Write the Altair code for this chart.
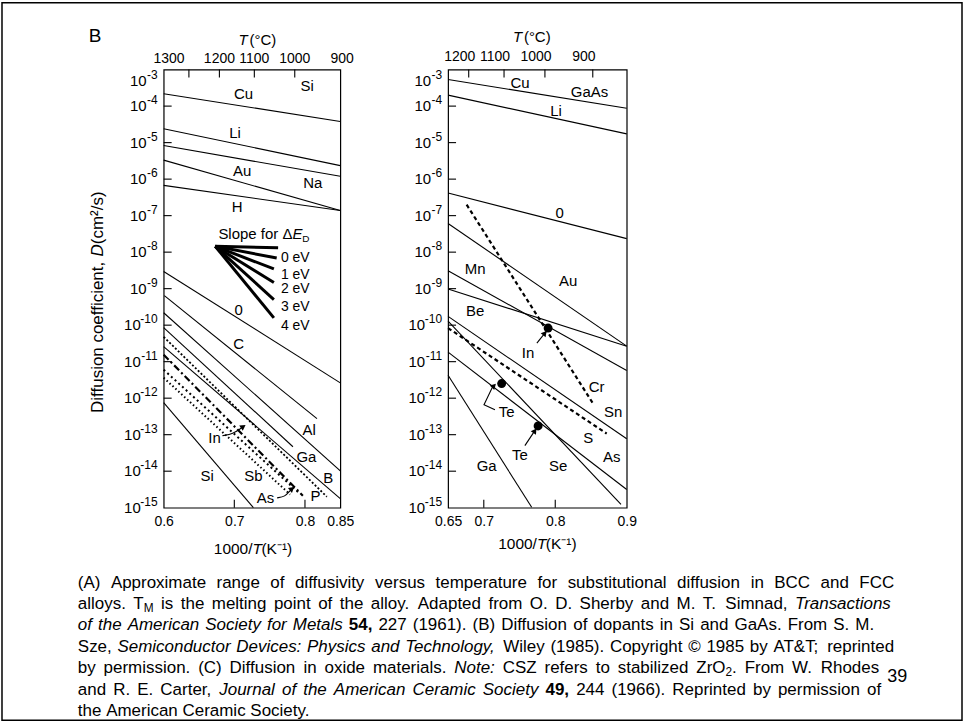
import re
import altair as alt
import pandas as pd

FONT = "Liberation Sans"

# ---------------- Left panel : dopants in Si ----------------
si_names = ["Cu", "Li", "Na", "Au", "H", "O", "C", "Al", "Ga", "B", "P", "In", "As", "Sb", "Si"]
si_x0 = [0.6, 0.6, 0.6, 0.6, 0.6, 0.6, 0.601, 0.6, 0.6, 0.6, 0.6, 0.6, 0.6, 0.6, 0.6]
si_y0 = [-3.66, -4.62, -5.08, -5.48, -6.17, -8.53, -9.19, -9.66, -10.07, -10.59, -10.32, -10.81, -11.22, -11.44, -12.12]
si_x1 = [0.85, 0.85, 0.85, 0.85, 0.85, 0.85, 0.817, 0.85, 0.783, 0.85, 0.831, 0.797, 0.793, 0.779, 0.727]
si_y1 = [-4.42, -5.63, -5.92, -6.86, -6.86, -11.58, -12.56, -13.99, -13.33, -14.75, -14.70, -14.67, -14.62, -14.64, -15.0]

si_lab_text = ["Si", "Cu", "Li", "Au", "Na", "H", "0", "C", "Al", "Ga", "B", "P", "In", "Si", "Sb", "As"]
si_lab_x = [0.803, 0.713, 0.701, 0.711, 0.811, 0.704, 0.706, 0.706, 0.806, 0.802, 0.833, 0.815, 0.672, 0.6615, 0.727, 0.744]
si_lab_y = [-3.46, -3.68, -4.73, -5.79, -6.10, -6.76, -9.58, -10.53, -12.86, -13.61, -14.19, -14.69, -13.09, -14.12, -14.12, -14.73]

# slope fan ("Slope for dE_D")
fan_x0 = 0.673
fan_y0 = -7.84
fan_x1 = [0.762, 0.760, 0.756, 0.756, 0.756, 0.756]
fan_y1 = [-7.88, -8.16, -8.46, -8.83, -9.30, -9.80]
fan_lab_text = ["0 eV", "1 eV", "2 eV", "3 eV", "4 eV"]
fan_lab_x = [0.766, 0.766, 0.766, 0.766, 0.766]
fan_lab_y = [-8.16, -8.62, -9.01, -9.50, -10.01]

si_arrow_in_x = [0.6831, 0.6986, 0.7085, 0.7127]
si_arrow_in_y = [-13.03, -12.97, -12.84, -12.78]
si_arrow_as_x = [0.7606, 0.7718, 0.7789, 0.7817]
si_arrow_as_y = [-14.73, -14.70, -14.53, -14.48]

si_temps = [1300, 1200, 1100, 1000, 900]
si_tick_temps = [1300, 1200, 1100, 1000]
si_xticks = [0.6, 0.7, 0.8, 0.85]

# ---------------- Right panel : dopants in GaAs ----------------
ga_names = ["Cu", "Li", "O", "Au", "Mn", "Be", "Cr", "Sn", "Se", "S", "As", "Ga"]
ga_x0 = [0.65, 0.65, 0.65, 0.65, 0.65, 0.65, 0.676, 0.65, 0.65, 0.65, 0.65, 0.65]
ga_y0 = [-3.27, -3.70, -6.38, -7.215, -8.51, -9.01, -6.70, -9.76, -9.89, -10.08, -10.74, -11.37]
ga_x1 = [0.9, 0.9, 0.9, 0.9, 0.9, 0.9, 0.853, 0.9, 0.892, 0.872, 0.9, 0.767]
ga_y1 = [-4.06, -4.76, -7.63, -10.575, -11.24, -10.575, -12.15, -13.11, -14.91, -12.97, -14.50, -14.99]

ga_lab_text = ["Cu", "GaAs", "Li", "0", "Mn", "Au", "Be", "In", "Cr", "Sn", "S", "As", "Se", "Ga", "Te", "Te"]
ga_lab_x = [0.7506, 0.848, 0.801, 0.806, 0.688, 0.818, 0.688, 0.762, 0.858, 0.881, 0.846, 0.879, 0.804, 0.704, 0.732, 0.7506]
ga_lab_y = [-3.38, -3.61, -4.13, -6.94, -8.45, -8.79, -9.60, -10.76, -11.69, -12.37, -13.10, -13.60, -13.87, -13.87, -12.37, -13.55]

ga_dot_x = [0.790, 0.725, 0.776]
ga_dot_y = [-10.08, -11.60, -12.76]

ga_arrow_in_x = [0.7743, 0.7855]
ga_arrow_in_y = [-10.49, -10.22]
ga_arrow_te1_x = [0.7156, 0.7003, 0.7115, 0.7142]
ga_arrow_te1_y = [-12.32, -12.18, -11.72, -11.66]
ga_arrow_te2_x = [0.7575, 0.7715]
ga_arrow_te2_y = [-13.30, -12.89]

ga_temps = [1200, 1100, 1000, 900]
ga_xticks = [0.65, 0.7, 0.8, 0.9]

decades = [-3, -4, -5, -6, -7, -8, -9, -10, -11, -12, -13, -14, -15]
inner_decades = [-4, -5, -6, -7, -8, -9, -10, -11, -12, -13, -14]

# caption: runs of (text, style) ; n = normal, i = italic, b = bold, sub = subscript
caption_runs = [
    [("(A) Approximate range of diffusivity versus temperature for substitutional diffusion in BCC and FCC", "n")],
    [("alloys. T", "n"), ("M", "sub"), (" is the melting point of the alloy. Adapted from O. D. Sherby and M. T. Simnad, ", "n"),
     ("Transactions", "i")],
    [("of the American Society for Metals ", "i"), ("54, ", "b"),
     ("227 (1961). (B) Diffusion of dopants in Si and GaAs. From S. M.", "n")],
    [("Sze, ", "n"), ("Semiconductor Devices: Physics and Technology, ", "i"),
     ("Wiley (1985). Copyright \u00a9 1985 by AT&T; reprinted", "n")],
    [("by permission. (C) Diffusion in oxide materials. ", "n"), ("Note: ", "i"),
     ("CSZ refers to stabilized ZrO", "n"), ("2", "sub"), (". From W. Rhodes", "n")],
    [("and R. E. Carter, ", "n"), ("Journal of the American Ceramic Society ", "i"), ("49, ", "b"),
     ("244 (1966). Reprinted by permission of", "n")],
    [("the American Ceramic Society.", "n")],
]
caption_right_edge = [895, 893, 875, 895, 880, 882, None]

# Arial / Liberation Sans advance widths (per 1000 em) used for word layout
ARIAL_W = {" ": 278, "(": 333, ")": 333, ",": 278, ".": 278, ":": 278, ";": 278, "&": 667, "\u00a9": 737, "-": 333,
           "/": 278, "\u00b2": 333}
ARIAL_W.update({d: 556 for d in "0123456789"})
ARIAL_W.update(dict(zip("abcdefghijklmnopqrstuvwxyz",
                        [556, 556, 500, 556, 556, 278, 556, 556, 222, 222, 500, 222, 833, 556, 556, 556, 556, 333, 500,
                         278, 556, 500, 722, 500, 500, 500])))
ARIAL_W.update(dict(zip("ABCDEFGHIJKLMNOPQRSTUVWXYZ",
                        [667, 667, 722, 722, 667, 611, 778, 722, 278, 500, 667, 556, 833, 722, 778, 667, 778, 722, 667,
                         611, 722, 667, 944, 667, 667, 611])))

W_L, W_R, H = 177, 179, 439
dummy = pd.DataFrame({"d": [0]})


def text_width(txt, size):
    return sum(ARIAL_W.get(c, 556) for c in txt) * size / 1000.0


def seg_df(names, x0, y0, x1, y1):
    rows = []
    for n, a, b, c, d in zip(names, x0, y0, x1, y1):
        rows.append({"name": n, "x": a, "logD": b})
        rows.append({"name": n, "x": c, "logD": d})
    return pd.DataFrame(rows)


def poly_df(xs, ys):
    return pd.DataFrame({"x": xs, "logD": ys, "o": list(range(len(xs)))})


def ptext(txt, x, y, size=14, align="left", baseline="middle", font=FONT, style=None, angle=None, weight=None):
    kw = dict(text=txt, align=align, baseline=baseline, fontSize=size, font=font, color="black")
    if style:
        kw["fontStyle"] = style
    if angle:
        kw["angle"] = angle
    if weight:
        kw["fontWeight"] = weight
    return alt.Chart(dummy).mark_text(**kw).encode(x=alt.value(x), y=alt.value(y))


def build_panel(dom, xticks, names, x0, y0, x1, y1, dashed, lab_t, lab_x, lab_y,
                temps, tick_temps, temp_dx, temp_y, first_dx, bottom_ticks):
    xaxis = alt.Axis(values=xticks, format=".2~f", labelFontSize=14, labelFont=FONT, labelColor="black",
                     ticks=False, domain=False, grid=False, title=None, labelPadding=7, labelFlush=False)

    def X(f):
        return alt.X(f"{f}:Q", scale=alt.Scale(domain=dom, nice=False, zero=False), axis=xaxis)

    def Y(f):
        return alt.Y(f"{f}:Q", scale=alt.Scale(domain=[-15, -3], nice=False, zero=False), axis=None)

    lines = seg_df(names, x0, y0, x1, y1)
    solid = [n for n in names if n not in dashed]
    layers = [
        alt.Chart(lines).transform_filter(alt.FieldOneOfPredicate(field="name", oneOf=solid))
        .mark_line(color="black", strokeWidth=1.1).encode(x=X("x"), y=Y("logD"), detail="name:N")
    ]
    for n, (dash, sw) in dashed.items():
        layers.append(
            alt.Chart(lines).transform_filter(alt.FieldEqualPredicate(field="name", equal=n))
            .mark_line(color="black", strokeWidth=sw, strokeDash=dash).encode(x=X("x"), y=Y("logD"))
        )
    labs = pd.DataFrame({"t": lab_t, "x": lab_x, "logD": lab_y})
    layers.append(alt.Chart(labs).mark_text(font=FONT, fontSize=15, color="black")
                  .encode(x=X("x"), y=Y("logD"), text="t:N"))

    # inward y ticks
    dd = pd.DataFrame({"k": inner_decades})
    layers.append(alt.Chart(dd).mark_rule(color="black", strokeWidth=1.1)
                  .encode(y=Y("k"), x=alt.value(0), x2=alt.value(8)))
    # y tick labels 10^k (top label drawn a little lower, as in the original)
    dl = pd.DataFrame({"k": decades})
    base = alt.Chart(dl).transform_calculate(e="'' + datum.k", ky="datum.k == -3 ? -3.3 : datum.k")
    layers.append(base.mark_text(align="right", baseline="middle", dx=-6, dy=-6, fontSize=12, font=FONT, color="black")
                  .encode(x=alt.value(0), y=Y("ky"), text="e:N"))
    layers.append(base.transform_filter("datum.k >= -9")
                  .mark_text(align="right", baseline="middle", dx=-17, fontSize=15, font=FONT, color="black", text="10")
                  .encode(x=alt.value(0), y=Y("ky")))
    layers.append(base.transform_filter("datum.k < -9")
                  .mark_text(align="right", baseline="middle", dx=-23, fontSize=15, font=FONT, color="black", text="10")
                  .encode(x=alt.value(0), y=Y("ky")))
    # bottom inward ticks
    bt = pd.DataFrame({"x": bottom_ticks})
    layers.append(alt.Chart(bt).mark_rule(color="black", strokeWidth=1.1)
                  .encode(x=X("x"), y=alt.value(H), y2=alt.value(H - 8)))
    # top temperature axis
    tt = pd.DataFrame({"T": tick_temps})
    layers.append(alt.Chart(tt).transform_calculate(x="1000/(datum.T+273)")
                  .mark_rule(color="black", strokeWidth=1.1)
                  .encode(x=X("x"), y=alt.value(0), y2=alt.value(8)))
    tl = pd.DataFrame({"T": temps})
    layers.append(alt.Chart(tl).transform_filter(f"datum.T != {temps[0]}")
                  .transform_calculate(x="1000/(datum.T+273)", s="'' + datum.T")
                  .mark_text(fontSize=14, font=FONT, color="black", baseline="middle", dx=temp_dx)
                  .encode(x=X("x"), y=alt.value(temp_y), text="s:N"))
    layers.append(alt.Chart(tl).transform_filter(f"datum.T == {temps[0]}")
                  .transform_calculate(x="1000/(datum.T+273)", s="'' + datum.T")
                  .mark_text(fontSize=14, font=FONT, color="black", baseline="middle", dx=first_dx)
                  .encode(x=X("x"), y=alt.value(temp_y), text="s:N"))
    return layers, X, Y


def caption_layers(x_left, y_first, line_gap, size, origin_x, origin_y):
    out = []

    def wd(txt, sub):
        return text_width(txt, size) * (0.7 if sub else 1.0)

    for li, runs in enumerate(caption_runs):
        items = []  # ("w", text, style) or ("s",)
        for text, style in runs:
            for tok in re.findall(r"\s+|\S+", text):
                if tok.isspace():
                    items.append(("s",))
                else:
                    items.append(("w", tok, style))
        nat = 0.0
        nsp = 0
        for it in items:
            if it[0] == "s":
                nat += wd(" ", False)
                nsp += 1
            else:
                nat += wd(it[1], it[2] == "sub")
        gap = wd(" ", False)
        right = caption_right_edge[li]
        if right is not None and nsp > 0:
            gap += max(0.0, ((right - x_left) - nat) / nsp)
        cx = x_left
        y = y_first + line_gap * li
        for it in items:
            if it[0] == "s":
                cx += gap
                continue
            _, tok, style = it
            if style == "sub":
                out.append(ptext(tok, cx - origin_x, y + 4 - origin_y, size=size * 0.7))
            elif style == "i":
                out.append(ptext(tok, cx - origin_x, y - origin_y, size=size, style="italic"))
            elif style == "b":
                out.append(ptext(tok, cx - origin_x, y - origin_y, size=size, weight="bold"))
            else:
                out.append(ptext(tok, cx - origin_x, y - origin_y, size=size))
            cx += wd(tok, style == "sub")
    return out


# ---------- left panel ----------
si_dashed = {"P": ([2, 2], 1.8), "In": ([7, 3, 2, 3], 2.2), "As": ([2, 3], 2.0), "Sb": ([1.5, 2.5], 2.0)}
L_layers, LX, LY = build_panel([0.6, 0.85], si_xticks, si_names, si_x0, si_y0, si_x1, si_y1, si_dashed,
                               si_lab_text, si_lab_x, si_lab_y, si_temps, si_tick_temps, 0, -11, -20, [0.7, 0.8])

fan_names = [f"f{i}" for i in range(len(fan_x1))]
fan = seg_df(fan_names, [fan_x0] * len(fan_x1), [fan_y0] * len(fan_x1), fan_x1, fan_y1)
L_layers.append(alt.Chart(fan).mark_line(color="black", strokeWidth=3, strokeCap="butt")
                .encode(x=LX("x"), y=LY("logD"), detail="name:N"))
fl = pd.DataFrame({"t": fan_lab_text, "x": fan_lab_x, "logD": fan_lab_y})
L_layers.append(alt.Chart(fl).mark_text(font=FONT, fontSize=14, color="black", align="left")
                .encode(x=LX("x"), y=LY("logD"), text="t:N"))

for xs, ys, ang in [(si_arrow_in_x, si_arrow_in_y, 56), (si_arrow_as_x, si_arrow_as_y, 50)]:
    pdf = poly_df(xs, ys)
    L_layers.append(alt.Chart(pdf).mark_line(color="black", strokeWidth=1.1, interpolate="basis")
                    .encode(x=LX("x"), y=LY("logD"), order="o:Q"))
    L_layers.append(alt.Chart(pdf.tail(1)).mark_point(shape="triangle-up", filled=True, color="black", size=40,
                                                      angle=ang, opacity=1)
                    .encode(x=LX("x"), y=LY("logD")))

OX, OY = 163, 68  # page position of the left plot's origin

# rotated y title with italic D
YT_SIZE = 17
yt_parts = [("Diffusion coefficient, ", None), ("D", "italic"), (" (cm\u00b2/s)", None)]
yt_start = 412 - OY
yt_layers = []
for txt, st in yt_parts:
    yt_layers.append(ptext(txt, -66, yt_start, size=YT_SIZE, align="left", angle=270, style=st))
    yt_start -= text_width(txt, YT_SIZE)

L_layers += yt_layers
L_layers += [
    ptext("Slope for \u0394", 129, 165, size=15, align="right"),
    ptext("E", 129, 165, size=15, style="italic"),
    ptext("D", 139, 170, size=10),
    ptext("B", -75, -34, size=19),
    ptext("T", 75, -30, size=15, style="italic"),
    ptext("(\u00b0C)", 86, -30, size=15),
    ptext("1000/", 89, 480, size=15.5, align="right"),
    ptext("T", 89, 480, size=15.5, style="italic"),
    ptext("(K\u207b\u00b9)", 98, 480, size=15.5),
    ptext("39", 735, 609, size=18, align="center"),
]
L_layers += caption_layers(77, 582, 21.5, 17.0, OX, OY)

# page frame
L_layers.append(alt.Chart(dummy).mark_rect(fill=None, stroke="black", strokeWidth=1.5)
                .encode(x=alt.value(-162), x2=alt.value(800), y=alt.value(-67), y2=alt.value(652)))

left = alt.layer(*L_layers).properties(width=W_L, height=H)

# ---------- right panel ----------
ga_dashed = {"Cr": ([4, 3], 2.2), "S": ([4, 3], 2.2)}
R_layers, RX, RY = build_panel([0.65, 0.9], ga_xticks, ga_names, ga_x0, ga_y0, ga_x1, ga_y1, ga_dashed,
                               ga_lab_text, ga_lab_x, ga_lab_y, ga_temps, ga_temps, -9, -13, -9, [0.7, 0.8])
dots = pd.DataFrame({"x": ga_dot_x, "logD": ga_dot_y})
R_layers.append(alt.Chart(dots).mark_point(shape="circle", filled=True, color="black", size=80, opacity=1)
                .encode(x=RX("x"), y=RY("logD")))
for xs, ys, ang in [(ga_arrow_in_x, ga_arrow_in_y, 39), (ga_arrow_te1_x, ga_arrow_te1_y, 45),
                    (ga_arrow_te2_x, ga_arrow_te2_y, 34)]:
    pdf = poly_df(xs, ys)
    R_layers.append(alt.Chart(pdf).mark_line(color="black", strokeWidth=1.1)
                    .encode(x=RX("x"), y=RY("logD"), order="o:Q"))
    R_layers.append(alt.Chart(pdf.tail(1)).mark_point(shape="triangle-up", filled=True, color="black", size=40,
                                                      angle=ang, opacity=1)
                    .encode(x=RX("x"), y=RY("logD")))
R_layers += [
    ptext("T", 65, -33, size=15, style="italic"),
    ptext("(\u00b0C)", 76, -33, size=15),
    ptext("1000/", 89, 475, size=15.5, align="right"),
    ptext("T", 89, 475, size=15.5, style="italic"),
    ptext("(K\u207b\u00b9)", 98, 475, size=15.5),
]
right = alt.layer(*R_layers).properties(width=W_R, height=H)

chart = (
    alt.hconcat(left, right, spacing=108, bounds="flush")
    .properties(padding=0, background="white")
    .configure_view(stroke="black", strokeWidth=1.2)
)
chart.save("out.html", embed_options={"renderer": "svg", "actions": False})
